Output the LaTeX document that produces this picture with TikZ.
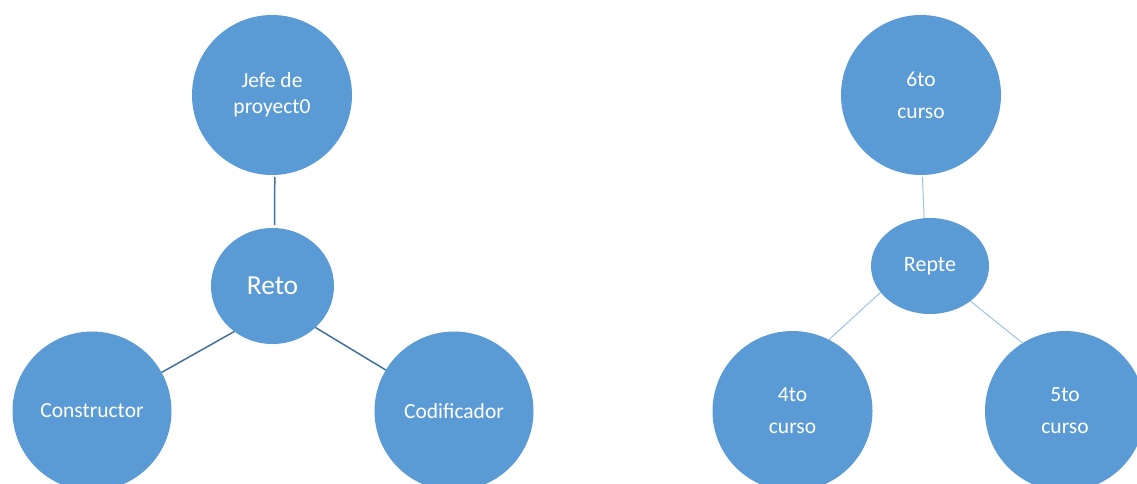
\documentclass[tikz,border=0pt]{standalone}
\usepackage{fontspec}
\setmainfont{Carlito}
\usetikzlibrary{shapes.geometric}
\definecolor{bubfill}{HTML}{5B9BD5}
\definecolor{darkline}{HTML}{41719C}
\definecolor{lightline}{HTML}{9DC3E6}
\tikzset{
  bub/.style={circle, fill=bubfill, text=white, inner sep=0pt, outer sep=0pt,
    minimum size=160pt, align=center, font=\fontsize{21.5}{26}\selectfont},
  bubwide/.style={bub, font=\fontsize{21.5}{32}\selectfont},
  hub/.style={ellipse, fill=bubfill, text=white, inner sep=0pt, outer sep=0pt, align=center},
  darkconn/.style={draw=darkline, line width=1.5pt},
  lightconn/.style={draw=lightline, line width=1pt}
}
\begin{document}
\begin{tikzpicture}[x=1pt,y=-1pt]
\path[use as bounding box] (0,0) rectangle (1137,483);
\clip (0,0) rectangle (1137,483);
\fill[white] (0,0) rectangle (1137,483);
% left group
\node[bub] (jefe) at (272,95) {Jefe de\\proyect0};
\node[hub, minimum width=123pt, minimum height=116pt, font=\fontsize{27.5}{32}\selectfont] (reto) at (272.5,286) {Reto};
\node[bub, minimum size=159pt] (cons) at (92,411) {Constructor};
\node[bub, minimum size=159pt] (codi) at (454,411) {Codificador};
\draw[darkconn] ([yshift=-2pt]jefe.272) -- ([yshift=3pt]reto.88);
\draw[darkconn] (reto.230) -- (cons.29);
\draw[darkconn] (reto.316) -- (codi.149);
% right group
\node[bubwide] (sexto) at (921,95) {6to\\curso};
\node[hub, minimum width=118pt, minimum height=96pt, font=\fontsize{22}{26}\selectfont] (repte) at (930,266) {Repte};
\node[bubwide] (cuarto) at (792.5,411) {4to\\curso};
\node[bubwide] (quinto) at (1065,411) {5to\\curso};
\draw[lightconn] ([yshift=-2pt]sexto.271) -- (repte.97);
\draw[lightconn] (repte.208) -- (cuarto.63);
\draw[lightconn] (repte.319) -- (quinto.122);
\end{tikzpicture}
\end{document}
